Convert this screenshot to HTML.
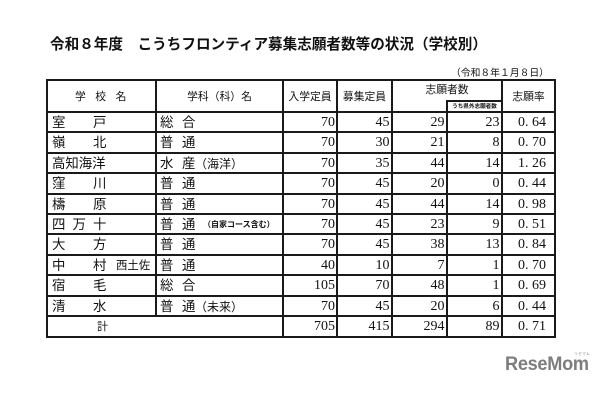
<!DOCTYPE html>
<html><head><meta charset="utf-8">
<style>
html,body{margin:0;padding:0;background:#fff;}
body{width:610px;height:400px;position:relative;overflow:hidden;font-family:"Liberation Sans","Noto Sans CJK JP",sans-serif;color:#111;}
.l{position:absolute;background:#1a1a1a;}
.t{position:absolute;white-space:nowrap;}
.n{position:absolute;white-space:nowrap;font-family:"Liberation Serif","Noto Serif CJK SC",serif;font-size:14px;text-align:right;}
.nm{font-size:13.4px;}
.hd{font-size:10.8px;}
</style></head><body>
<div class="t" style="left:50px;top:35px;font-size:14.6px;font-weight:bold;line-height:18px;font-family:'Noto Sans CJK JP',sans-serif;">令和８年度　こうちフロンティア募集志願者数等の状況（学校別）</div>
<div class="t" style="left:451px;top:66px;font-size:9.8px;line-height:12px;font-family:'Noto Sans CJK JP',sans-serif;">（令和８年１月８日）</div>

<!-- horizontal lines -->
<div class="l" style="left:46px;top:79px;width:510px;height:2.4px;"></div>
<div class="l" style="left:447px;top:100.3px;width:55px;height:1.6px;"></div>
<div class="l" style="left:46px;top:111px;width:510px;height:2px;"></div>
<div class="l" style="left:46px;top:131.4px;width:510px;height:2px;"></div>
<div class="l" style="left:46px;top:151.8px;width:510px;height:2px;"></div>
<div class="l" style="left:46px;top:172.2px;width:510px;height:2px;"></div>
<div class="l" style="left:46px;top:192.6px;width:510px;height:2px;"></div>
<div class="l" style="left:46px;top:213px;width:510px;height:2px;"></div>
<div class="l" style="left:46px;top:233.4px;width:510px;height:2px;"></div>
<div class="l" style="left:46px;top:253.8px;width:510px;height:2px;"></div>
<div class="l" style="left:46px;top:274.2px;width:510px;height:2px;"></div>
<div class="l" style="left:46px;top:294.6px;width:510px;height:2px;"></div>
<div class="l" style="left:46px;top:315px;width:510px;height:2px;"></div>
<div class="l" style="left:46px;top:336px;width:510px;height:2.4px;"></div>
<!-- vertical lines -->
<div class="l" style="left:45.8px;top:79px;width:2.4px;height:259px;"></div>
<div class="l" style="left:155px;top:79px;width:2px;height:237px;"></div>
<div class="l" style="left:282px;top:79px;width:2px;height:259px;"></div>
<div class="l" style="left:336px;top:79px;width:2px;height:259px;"></div>
<div class="l" style="left:391px;top:79px;width:2px;height:259px;"></div>
<div class="l" style="left:446px;top:100px;width:2px;height:238px;"></div>
<div class="l" style="left:501px;top:79px;width:2px;height:259px;"></div>
<div class="l" style="left:553.8px;top:79px;width:2.4px;height:259px;"></div>

<!-- header -->
<div class="t hd" style="left:75px;top:89px;line-height:16px;letter-spacing:9.5px;">学校名</div>
<div class="t hd" style="left:157px;width:125px;text-align:center;top:89px;line-height:16px;">学科（科）名</div>
<div class="t hd" style="left:284px;width:52px;text-align:center;top:89px;line-height:16px;">入学定員</div>
<div class="t hd" style="left:338px;width:53px;text-align:center;top:89px;line-height:16px;">募集定員</div>
<div class="t hd" style="left:393px;width:108px;text-align:center;top:83px;line-height:14px;">志願者数</div>
<div class="t" style="left:448px;width:53px;text-align:center;top:103px;line-height:8px;font-size:5.6px;font-weight:bold;">うち県外志願者数</div>
<div class="t hd" style="left:503px;width:51px;text-align:center;top:89px;line-height:16px;">志願率</div>

<!-- rows: names -->
<div class="t nm" style="left:52px;top:113px;line-height:20px;">室</div><div class="t nm" style="left:93px;top:113px;line-height:20px;">戸</div>
<div class="t nm" style="left:52px;top:133.4px;line-height:20px;">嶺</div><div class="t nm" style="left:93px;top:133.4px;line-height:20px;">北</div>
<div class="t nm" style="left:52px;top:153.8px;line-height:20px;">高知海洋</div>
<div class="t nm" style="left:52px;top:174.2px;line-height:20px;">窪</div><div class="t nm" style="left:93px;top:174.2px;line-height:20px;">川</div>
<div class="t nm" style="left:52px;top:194.6px;line-height:20px;">檮</div><div class="t nm" style="left:93px;top:194.6px;line-height:20px;">原</div>
<div class="t nm" style="left:52px;top:215px;line-height:20px;">四</div><div class="t nm" style="left:72.5px;top:215px;line-height:20px;">万</div><div class="t nm" style="left:93px;top:215px;line-height:20px;">十</div>
<div class="t nm" style="left:52px;top:235.4px;line-height:20px;">大</div><div class="t nm" style="left:93px;top:235.4px;line-height:20px;">方</div>
<div class="t nm" style="left:52px;top:255.8px;line-height:20px;">中</div><div class="t nm" style="left:93px;top:255.8px;line-height:20px;">村</div><div class="t" style="left:116px;top:255.8px;line-height:20px;font-size:11.4px;">西土佐</div>
<div class="t nm" style="left:52px;top:276.2px;line-height:20px;">宿</div><div class="t nm" style="left:93px;top:276.2px;line-height:20px;">毛</div>
<div class="t nm" style="left:52px;top:296.6px;line-height:20px;">清</div><div class="t nm" style="left:93px;top:296.6px;line-height:20px;">水</div>
<div class="t" style="left:97px;top:317px;line-height:20px;font-size:11px;">計</div>

<!-- rows: course -->
<div class="t nm" style="left:160px;top:113px;line-height:20px;">総</div><div class="t nm" style="left:182px;top:113px;line-height:20px;">合</div>
<div class="t nm" style="left:160px;top:133.4px;line-height:20px;">普</div><div class="t nm" style="left:182px;top:133.4px;line-height:20px;">通</div>
<div class="t nm" style="left:160px;top:153.8px;line-height:20px;">水</div><div class="t nm" style="left:182px;top:153.8px;line-height:20px;">産</div><div class="t" style="left:195px;top:153.8px;line-height:20px;font-size:12px;">（海洋）</div>
<div class="t nm" style="left:160px;top:174.2px;line-height:20px;">普</div><div class="t nm" style="left:182px;top:174.2px;line-height:20px;">通</div>
<div class="t nm" style="left:160px;top:194.6px;line-height:20px;">普</div><div class="t nm" style="left:182px;top:194.6px;line-height:20px;">通</div>
<div class="t nm" style="left:160px;top:215px;line-height:20px;">普</div><div class="t nm" style="left:182px;top:215px;line-height:20px;">通</div><div class="t" style="left:203px;top:215px;line-height:20px;font-size:8px;font-weight:bold;">（自家コース含む）</div>
<div class="t nm" style="left:160px;top:235.4px;line-height:20px;">普</div><div class="t nm" style="left:182px;top:235.4px;line-height:20px;">通</div>
<div class="t nm" style="left:160px;top:255.8px;line-height:20px;">普</div><div class="t nm" style="left:182px;top:255.8px;line-height:20px;">通</div>
<div class="t nm" style="left:160px;top:276.2px;line-height:20px;">総</div><div class="t nm" style="left:182px;top:276.2px;line-height:20px;">合</div>
<div class="t nm" style="left:160px;top:296.6px;line-height:20px;">普</div><div class="t nm" style="left:182px;top:296.6px;line-height:20px;">通</div><div class="t" style="left:195px;top:296.6px;line-height:20px;font-size:12px;">（未来）</div>

<!-- numbers -->
<div style="position:absolute;left:0;top:0;">
<div class="n" style="left:284px;width:51px;top:113px;line-height:20px;">70</div><div class="n" style="left:338px;width:51.5px;top:113px;line-height:20px;">45</div><div class="n" style="left:393px;width:51.5px;top:113px;line-height:20px;">29</div><div class="n" style="left:448px;width:51.5px;top:113px;line-height:20px;">23</div><div class="n" style="left:503px;width:43px;top:113px;line-height:20px;">0. 64</div>
<div class="n" style="left:284px;width:51px;top:133.4px;line-height:20px;">70</div><div class="n" style="left:338px;width:51.5px;top:133.4px;line-height:20px;">30</div><div class="n" style="left:393px;width:51.5px;top:133.4px;line-height:20px;">21</div><div class="n" style="left:448px;width:51.5px;top:133.4px;line-height:20px;">8</div><div class="n" style="left:503px;width:43px;top:133.4px;line-height:20px;">0. 70</div>
<div class="n" style="left:284px;width:51px;top:153.8px;line-height:20px;">70</div><div class="n" style="left:338px;width:51.5px;top:153.8px;line-height:20px;">35</div><div class="n" style="left:393px;width:51.5px;top:153.8px;line-height:20px;">44</div><div class="n" style="left:448px;width:51.5px;top:153.8px;line-height:20px;">14</div><div class="n" style="left:503px;width:43px;top:153.8px;line-height:20px;">1. 26</div>
<div class="n" style="left:284px;width:51px;top:174.2px;line-height:20px;">70</div><div class="n" style="left:338px;width:51.5px;top:174.2px;line-height:20px;">45</div><div class="n" style="left:393px;width:51.5px;top:174.2px;line-height:20px;">20</div><div class="n" style="left:448px;width:51.5px;top:174.2px;line-height:20px;">0</div><div class="n" style="left:503px;width:43px;top:174.2px;line-height:20px;">0. 44</div>
<div class="n" style="left:284px;width:51px;top:194.6px;line-height:20px;">70</div><div class="n" style="left:338px;width:51.5px;top:194.6px;line-height:20px;">45</div><div class="n" style="left:393px;width:51.5px;top:194.6px;line-height:20px;">44</div><div class="n" style="left:448px;width:51.5px;top:194.6px;line-height:20px;">14</div><div class="n" style="left:503px;width:43px;top:194.6px;line-height:20px;">0. 98</div>
<div class="n" style="left:284px;width:51px;top:215px;line-height:20px;">70</div><div class="n" style="left:338px;width:51.5px;top:215px;line-height:20px;">45</div><div class="n" style="left:393px;width:51.5px;top:215px;line-height:20px;">23</div><div class="n" style="left:448px;width:51.5px;top:215px;line-height:20px;">9</div><div class="n" style="left:503px;width:43px;top:215px;line-height:20px;">0. 51</div>
<div class="n" style="left:284px;width:51px;top:235.4px;line-height:20px;">70</div><div class="n" style="left:338px;width:51.5px;top:235.4px;line-height:20px;">45</div><div class="n" style="left:393px;width:51.5px;top:235.4px;line-height:20px;">38</div><div class="n" style="left:448px;width:51.5px;top:235.4px;line-height:20px;">13</div><div class="n" style="left:503px;width:43px;top:235.4px;line-height:20px;">0. 84</div>
<div class="n" style="left:284px;width:51px;top:255.8px;line-height:20px;">40</div><div class="n" style="left:338px;width:51.5px;top:255.8px;line-height:20px;">10</div><div class="n" style="left:393px;width:51.5px;top:255.8px;line-height:20px;">7</div><div class="n" style="left:448px;width:51.5px;top:255.8px;line-height:20px;">1</div><div class="n" style="left:503px;width:43px;top:255.8px;line-height:20px;">0. 70</div>
<div class="n" style="left:284px;width:51px;top:276.2px;line-height:20px;">105</div><div class="n" style="left:338px;width:51.5px;top:276.2px;line-height:20px;">70</div><div class="n" style="left:393px;width:51.5px;top:276.2px;line-height:20px;">48</div><div class="n" style="left:448px;width:51.5px;top:276.2px;line-height:20px;">1</div><div class="n" style="left:503px;width:43px;top:276.2px;line-height:20px;">0. 69</div>
<div class="n" style="left:284px;width:51px;top:296.6px;line-height:20px;">70</div><div class="n" style="left:338px;width:51.5px;top:296.6px;line-height:20px;">45</div><div class="n" style="left:393px;width:51.5px;top:296.6px;line-height:20px;">20</div><div class="n" style="left:448px;width:51.5px;top:296.6px;line-height:20px;">6</div><div class="n" style="left:503px;width:43px;top:296.6px;line-height:20px;">0. 44</div>
<div class="n" style="left:284px;width:51px;top:317px;line-height:20px;">705</div><div class="n" style="left:338px;width:51.5px;top:317px;line-height:20px;">415</div><div class="n" style="left:393px;width:51.5px;top:317px;line-height:20px;">294</div><div class="n" style="left:448px;width:51.5px;top:317px;line-height:20px;">89</div><div class="n" style="left:503px;width:43px;top:317px;line-height:20px;">0. 71</div>
</div>

<!-- logo -->
<div class="t" style="left:505px;top:353px;font-size:19.5px;line-height:22px;font-weight:bold;color:#7d7d7d;transform:scaleX(0.93);transform-origin:left top;letter-spacing:-0.3px;">ReseMom</div>
<div class="t" style="left:574px;top:351px;font-size:4px;line-height:5px;color:#999;">リセマム</div>
</body></html>
